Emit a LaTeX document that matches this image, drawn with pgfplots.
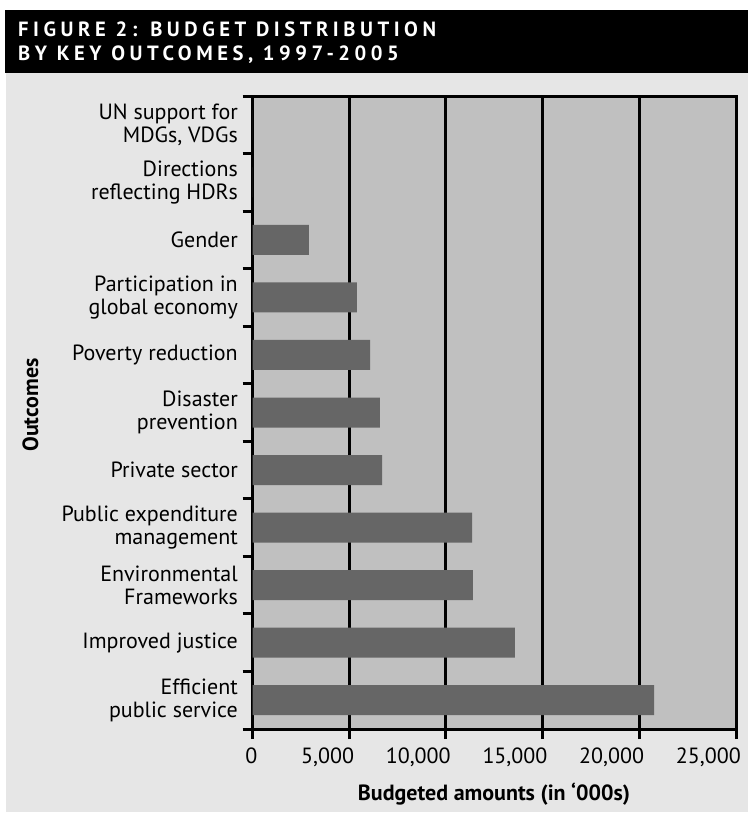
\documentclass[border=0pt]{standalone}
\usepackage{fontspec}
\setmainfont{PT Sans}
\newfontfamily\titlefont{PT Sans}[LetterSpace=22]
\usepackage{pgfplots}
\pgfplotsset{compat=1.18}
\definecolor{panel}{HTML}{E6E6E6}
\definecolor{plotbg}{HTML}{C0C0C0}
\definecolor{barc}{HTML}{666666}
\begin{document}
\begin{tikzpicture}
\fill[white] (0pt,0pt) rectangle (748pt,-813pt);
\fill[panel] (6pt,-73pt) rectangle (748pt,-812pt);
\fill[black] (5pt,-10pt) rectangle (748pt,-73pt);
\node[anchor=base west, text=white, inner sep=0pt, font=\titlefont\bfseries\fontsize{20.6}{22}\selectfont] at (18pt,-37pt) {FIGURE 2: BUDGET DISTRIBUTION};
\node[anchor=base west, text=white, inner sep=0pt, font=\titlefont\bfseries\fontsize{20.6}{22}\selectfont] at (18pt,-61pt) {BY KEY OUTCOMES, 1997-2005};
\begin{axis}[
  at={(252.5pt,-729pt)}, anchor=south west,
  scale only axis, width=483.5pt, height=633pt,
  xbar, bar width=30pt,
  xmin=0, xmax=25000, ymin=-0.5, ymax=10.5,
  axis background/.style={fill=plotbg},
  axis line style={line width=3pt, black},
  xtick={0,5000,10000,15000,20000,25000},
  scaled x ticks=false,
  xmajorgrids, grid style={black, line width=3pt},
  tick style={black, line width=3pt},
  major tick length=10pt,
  tick align=outside,
  xtick pos=bottom, ytick pos=left,
  /pgf/number format/1000 sep={,},
  /pgf/number format/assume math mode=true,
  xticklabel style={anchor=base east, inner sep=0pt, xshift=5pt, yshift=-24pt, font=\fontsize{22}{23}\selectfont},
  ytick={0,...,10},
  yticklabels={{Efficient\\public service},{Improved justice},{Environmental\\Frameworks},{Public expenditure\\management},{Private sector},{Disaster\\prevention},{Poverty reduction},{Participation in\\global economy},{Gender},{Directions\\reflecting HDRs},{UN support for\\MDGs, VDGs}},
  yticklabel style={align=right, inner sep=0pt, xshift=-4.5pt, font=\fontsize{22}{23}\selectfont},
  ytick style={draw=none},
  extra y ticks={-0.5,0.5,1.5,2.5,3.5,4.5,5.5,6.5,7.5,8.5,9.5,10.5},
  extra y tick labels={},
  extra y tick style={ytick style={draw=black}, grid=none},
]
\addplot[fill=barc, draw=none] coordinates {(20760,0) (13570,1) (11400,2) (11350,3) (6700,4) (6590,5) (6080,6) (5400,7) (2920,8) (0,9) (0,10)};
\end{axis}
\node[anchor=base, inner sep=0pt, font=\bfseries\fontsize{22}{26}\selectfont] at (494pt,-800pt) {Budgeted amounts (in ‘000s)};
\node[anchor=base, rotate=90, inner sep=0pt, font=\bfseries\fontsize{22}{26}\selectfont] at (38pt,-405pt) {Outcomes};
\end{tikzpicture}
\end{document}
